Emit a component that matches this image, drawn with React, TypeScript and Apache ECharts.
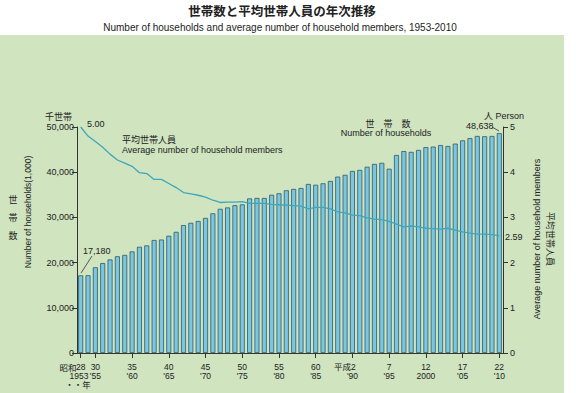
import React, { useEffect, useRef } from "react";
import * as echarts from "echarts";

const years = [
  "1953","1954","1955","1956","1957","1958","1959","1960","1961","1962",
  "1963","1964","1965","1966","1967","1968","1969","1970","1971","1972",
  "1973","1974","1975","1976","1977","1978","1979","1980","1981","1982",
  "1983","1984","1985","1986","1987","1988","1989","1990","1991","1992",
  "1993","1994","1995","1996","1997","1998","1999","2000","2001","2002",
  "2003","2004","2005","2006","2007","2008","2009","2010",
];

// Number of households (1,000)
const households = [
  17180, 17202, 18963, 19900, 20700, 21400, 21700, 22476, 23500, 23800,
  25000, 25100, 25940, 26800, 28300, 28800, 29200, 29887, 30900, 31900,
  32200, 32700, 32877, 34200, 34300, 34300, 35000, 35338, 36000, 36300,
  36500, 37400, 37226, 37544, 38064, 39028, 39417, 40273, 40506, 41210,
  41826, 42069, 40770, 43807, 44669, 44496, 44923, 45545, 45664, 46005,
  45800, 46323, 47043, 47531, 48023, 47957, 48013, 48638,
];

// Average number of household members
const members = [
  5.0, 4.8, 4.68, 4.55, 4.4, 4.27, 4.2, 4.13, 3.99, 3.97,
  3.84, 3.84, 3.75, 3.66, 3.55, 3.52, 3.49, 3.45, 3.38, 3.33,
  3.34, 3.34, 3.35, 3.31, 3.31, 3.31, 3.29, 3.28, 3.27, 3.26,
  3.25, 3.19, 3.22, 3.22, 3.19, 3.12, 3.1, 3.05, 3.04, 2.99,
  2.96, 2.95, 2.91, 2.85, 2.79, 2.81, 2.79, 2.76, 2.75, 2.74,
  2.76, 2.72, 2.68, 2.65, 2.63, 2.63, 2.62, 2.59,
];

// Tick labels on the year axis (Japanese era year / western year)
const tickYears = ["1953","1955","1960","1965","1970","1975","1980","1985","1990","1995","2000","2005","2010"];
const tickLabels = [
  "28",
  "30\n'55",
  "35\n'60",
  "40\n'65",
  "45\n'70",
  "50\n'75",
  "55\n'80",
  "60\n'85",
  "{q|平成2}\n'90",
  "7\n'95",
  "12\n2000",
  "17\n'05",
  "22\n'10",
];

const FONT = "'Liberation Sans', 'Noto Sans CJK JP', sans-serif";
const TXT = "#222";

export default function App() {
  const ref = useRef<HTMLDivElement>(null);

  useEffect(() => {
    if (!ref.current) return;
    const chart = echarts.init(ref.current, undefined, { renderer: "svg" });
    const isTick = (i: number) => tickYears.indexOf(years[i]) >= 0;
    const fmt = (n: number) => n.toLocaleString("en-US");
    const t = (x: number, y: number, text: string, extra: any = {}) => ({
      type: "text",
      x,
      y,
      silent: true,
      style: {
        text,
        fill: TXT,
        font: `${extra.bold ? "bold " : ""}${extra.size || 9}px ${FONT}`,
        align: extra.align || "left",
        verticalAlign: "middle",
      },
      rotation: extra.rotation || 0,
      z: 10,
    });

    const option: any = {
      animation: false,
      backgroundColor: "#ffffff",
      textStyle: { fontFamily: FONT },
      grid: { left: 77, right: 73, top: 127, bottom: 40, containLabel: false },
      xAxis: {
        type: "category",
        data: years,
        boundaryGap: true,
        axisLine: { show: true, lineStyle: { color: "#333", width: 1 } },
        axisTick: {
          show: true,
          alignWithLabel: true,
          interval: (i: number) => isTick(i),
          length: 5,
          lineStyle: { color: "#333" },
        },
        axisLabel: {
          interval: (i: number) => isTick(i),
          showMinLabel: true,
          showMaxLabel: true,
          hideOverlap: false,
          formatter: (v: string) => {
            const k = tickYears.indexOf(v);
            return k >= 0 ? tickLabels[k] : "";
          },
          fontSize: 8.5,
          lineHeight: 8.5,
          margin: 10,
          color: TXT,
          fontFamily: FONT,
          rich: {
            q: { fontSize: 8.5, lineHeight: 8.5, padding: [0, 15, 0, 0], fontFamily: FONT, color: TXT },
          },
        },
        splitLine: { show: false },
      },
      yAxis: [
        {
          type: "value",
          min: 0,
          max: 50000,
          interval: 10000,
          position: "left",
          axisLine: { show: true, lineStyle: { color: "#333" } },
          axisTick: { show: true, length: 5, lineStyle: { color: "#333" } },
          axisLabel: { formatter: (v: number) => fmt(v), fontSize: 9, margin: 3, color: TXT, fontFamily: FONT },
          splitLine: { show: false },
        },
        {
          type: "value",
          min: 0,
          max: 5,
          interval: 1,
          position: "right",
          axisLine: { show: true, lineStyle: { color: "#333" } },
          axisTick: { show: true, length: 5, lineStyle: { color: "#333" } },
          axisLabel: { fontSize: 9, margin: 7, color: TXT, fontFamily: FONT },
          splitLine: { show: false },
        },
      ],
      series: [
        {
          name: "世帯数",
          type: "bar",
          data: households,
          barWidth: 5,
          itemStyle: { color: "#7bc6e3", borderColor: "#2f5a63", borderWidth: 0.8 },
          z: 2,
        },
        {
          name: "平均世帯人員",
          type: "line",
          yAxisIndex: 1,
          data: members,
          symbol: "none",
          lineStyle: { color: "#3ea7ba", width: 1.3 },
          z: 3,
        },
      ],
      graphic: [
        {
          type: "rect",
          shape: { x: 0, y: 35, width: 564, height: 358 },
          style: { fill: "#cfe4bf" },
          silent: true,
          z: -10,
        },
        t(282, 12, "世帯数と平均世帯人員の年次推移", { size: 12.5, align: "center", bold: true }),
        t(280, 27, "Number of households and average number of household members, 1953-2010", { size: 10, align: "center" }),
        t(45, 117, "千世帯", { size: 9 }),
        t(13, 200, "世", { size: 9, align: "center" }),
        t(13, 218, "帯", { size: 9, align: "center" }),
        t(13, 236, "数", { size: 9, align: "center" }),
        t(28, 212, "Number of households(1,000)", { size: 8.5, align: "center", rotation: Math.PI / 2 }),
        t(484, 116, "人 Person", { size: 9 }),
        t(537, 239, "Average number of household members", { size: 9, align: "center", rotation: Math.PI / 2 }),
        t(550, 239, "平均世帯人員", { size: 9, align: "center", rotation: -Math.PI / 2 }),
        // first tick's extra label lines (era name, western year, unit)
        t(76.5, 367.5, "昭和", { size: 8.5, align: "right" }),
        t(79, 376, "1953", { size: 8.5, align: "center" }),
        t(78, 384.5, "・・年", { size: 8.5, align: "center" }),
        t(87, 124, members[0].toFixed(2), { size: 9 }),
        t(122, 140, "平均世帯人員", { size: 9 }),
        t(122, 150, "Average number of household members", { size: 9 }),
        t(83, 251, fmt(households[0]), { size: 9 }),
        {
          type: "line",
          shape: { x1: 81, y1: 273, x2: 92, y2: 256 },
          style: { stroke: "#333", lineWidth: 0.8 },
          silent: true,
          z: 10,
        },
        t(388, 124, "世　帯　数", { size: 9, align: "center" }),
        t(386, 133, "Number of households", { size: 9, align: "center" }),
        t(466, 126, fmt(households[households.length - 1]), { size: 9 }),
        {
          type: "line",
          shape: { x1: 492, y1: 127, x2: 499, y2: 131 },
          style: { stroke: "#333", lineWidth: 0.8 },
          silent: true,
          z: 10,
        },
        t(505, 237, members[members.length - 1].toFixed(2), { size: 9 }),
      ],
    };
    chart.setOption(option);
    return () => chart.dispose();
  }, []);

  return (
    <div
      ref={ref}
      style={{ position: "absolute", left: 0, top: 0, width: 576, height: 393 }}
    />
  );
}
